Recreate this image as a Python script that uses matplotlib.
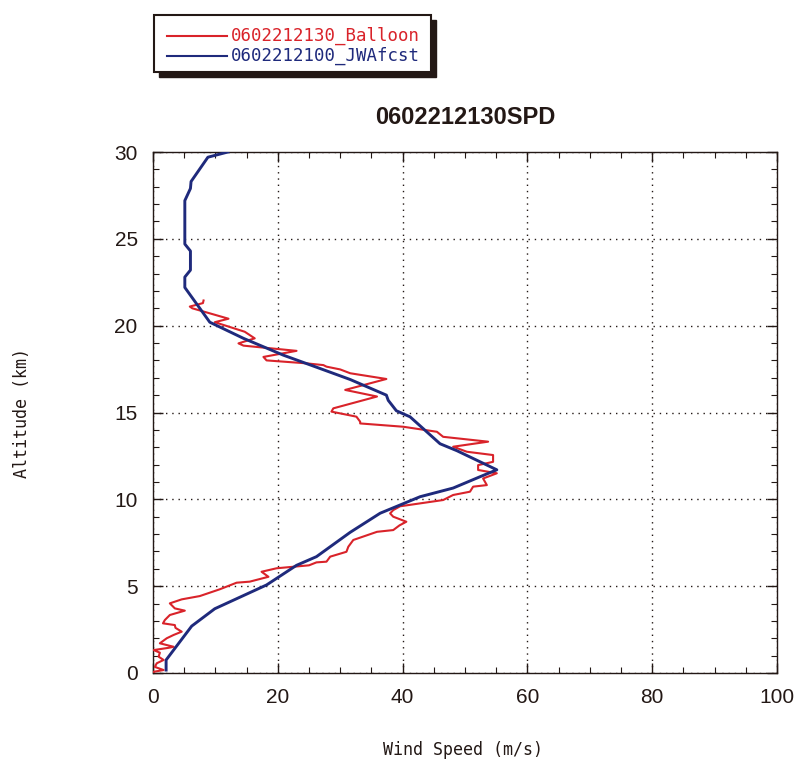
import matplotlib
matplotlib.use("Agg")
import matplotlib.pyplot as plt
from matplotlib.patches import Rectangle
from matplotlib.lines import Line2D
from matplotlib.ticker import MultipleLocator

# ---- data ----
balloon_alt = [0.07, 0.17, 0.35, 0.56, 0.75, 0.94, 1.17, 1.32, 1.45, 1.51, 1.71, 2.00, 2.19,
               2.38, 2.60, 2.76, 2.86, 3.05, 3.34, 3.59, 3.72, 4.01, 4.24, 4.43, 4.82, 5.20,
               5.26, 5.54, 5.83, 6.03, 6.20, 6.37, 6.41, 6.70, 6.98, 7.27, 7.66, 8.13, 8.23,
               8.50, 8.71, 9.00, 9.19, 9.38, 9.60, 9.96, 10.25, 10.44, 10.73, 10.82, 11.20,
               11.50, 11.69, 11.97, 12.16, 12.55, 12.74, 13.03, 13.32, 13.60, 13.89, 14.18,
               14.37, 14.47, 14.76, 15.05, 15.24, 15.92, 16.30, 16.93, 17.26, 17.48, 17.64,
               17.73, 17.83, 18.00, 18.20, 18.55, 18.70, 18.85, 18.98, 19.27, 19.65, 20.20,
               20.40, 21.00, 21.10, 21.30, 21.45]
balloon_spd = [0.1, 1.7, 0.3, 0.6, 1.7, 0.9, 1.1, 0.1, 2.5, 3.3, 1.1, 2.2, 3.3,
               4.6, 3.6, 3.5, 1.6, 1.9, 2.7, 5.1, 3.5, 2.7, 4.6, 7.5, 10.7, 13.4,
               15.5, 18.5, 17.4, 19.8, 25.0, 26.2, 27.8, 28.4, 31.0, 31.3, 32.1, 35.9, 38.5,
               39.5, 40.6, 38.5, 38.0, 38.5, 39.6, 46.5, 48.1, 50.8, 51.3, 53.5, 52.9,
               55.1, 52.1, 52.1, 54.5, 54.5, 50.3, 48.1, 53.7, 46.5, 45.5, 40.1,
               33.2, 33.2, 32.6, 28.6, 28.9, 35.9, 30.8, 37.4, 31.6, 30.0, 27.8,
               27.3, 24.6, 18.2, 17.7, 23.0, 18.75, 14.5, 13.7, 16.3, 14.7, 9.9,
               12.1, 6.3, 5.9, 8.0, 8.1]

fcst_alt = [0.17, 0.75, 2.7, 3.7, 5.07, 6.2, 6.7, 8.1, 9.2, 10.15, 10.65, 11.3, 11.7,
            12.8, 13.2, 14.75, 15.1, 15.7, 16.0, 16.9, 17.7, 18.3, 19.27, 20.2,
            22.2, 22.8, 23.2, 24.3, 24.7, 27.2, 27.9, 28.3, 29.7, 30.0]
fcst_spd = [2.1, 2.1, 6.2, 9.9, 18.2, 23.0, 26.2, 31.6, 36.4, 42.8, 48.1, 52.4, 55.1,
            48.7, 46.0, 41.2, 39.0, 37.7, 37.4, 31.6, 25.5, 20.9, 14.5, 9.1,
            5.1, 5.1, 6.0, 6.0, 5.1, 5.1, 6.0, 6.1, 8.8, 12.0]

labels = ["0602212130_Balloon", "0602212100_JWAfcst"]
title = "0602212130SPD"
xlabel = "Wind Speed (m/s)"
ylabel = "Altitude (km)"

red = "#d9232a"
blue = "#1f2a7c"
ink = "#231815"
sans = ["Liberation Sans", "DejaVu Sans"]
mono = ["DejaVu Sans Mono"]

W, H = 797, 762
fig = plt.figure(figsize=(W / 100, H / 100), dpi=100)
ax = fig.add_axes([153 / W, 1 - 673 / H, (777 - 153) / W, (673 - 152) / H])

ax.plot(balloon_spd, balloon_alt, color=red, lw=1.5, zorder=3)
ax.plot(fcst_spd, fcst_alt, color=blue, lw=2.1, zorder=4)

ax.set_xlim(0, 100)
ax.set_ylim(0, 30)
ax.xaxis.set_major_locator(MultipleLocator(20))
ax.xaxis.set_minor_locator(MultipleLocator(5))
ax.yaxis.set_major_locator(MultipleLocator(5))
ax.yaxis.set_minor_locator(MultipleLocator(1))
ax.tick_params(which="both", direction="in", top=True, right=True, colors=ink)
ax.tick_params(which="major", length=7, width=1)
ax.tick_params(which="minor", length=4, width=0.8)
ax.tick_params(axis="x", pad=11)
ax.tick_params(axis="y", pad=11)
for lab in ax.get_xticklabels() + ax.get_yticklabels():
    lab.set_family(sans)
    lab.set_fontsize(15)
    lab.set_color(ink)
for s in ax.spines.values():
    s.set_color(ink)
    s.set_linewidth(1.0)
ax.grid(True, which="major", color=ink, linestyle=(0, (1, 3.5)), linewidth=1.0)

fig.text(463 / W, 1 - 750 / H, xlabel, family=mono, fontsize=12, color=ink,
         ha="center", va="center")
fig.text(22 / W, 1 - 413 / H, ylabel, family=mono, fontsize=12, color=ink,
         ha="center", va="center", rotation=90)

fig.text(465 / W, 1 - 118 / H, title, family=sans,
         fontweight="bold", fontsize=17, color=ink, ha="center", va="center")

# legend box with black drop shadow (figure pixel coords)
def px(x, y):
    return x / W, 1 - y / H

bx0, by0, bx1, by1 = 154, 15, 431, 72
sh = 5
fig.patches.append(Rectangle(px(bx0 + sh, by1 + sh), (bx1 - bx0) / W, (by1 - by0) / H,
                             transform=fig.transFigure, facecolor=ink, edgecolor=ink,
                             zorder=1))
fig.patches.append(Rectangle(px(bx0, by1), (bx1 - bx0) / W, (by1 - by0) / H,
                             transform=fig.transFigure, facecolor="white", edgecolor=ink,
                             linewidth=1.5, zorder=2))
for i, (lab, col) in enumerate(zip(labels, [red, blue])):
    yy = 36 + 20 * i
    fig.lines.append(Line2D([167 / W, 227 / W], [1 - yy / H, 1 - yy / H],
                            transform=fig.transFigure, color=col, lw=1.5, zorder=3))
    fig.text(231 / W, 1 - yy / H, lab, family=mono, fontsize=12.5, color=col,
             ha="left", va="center", zorder=4)

fig.savefig("out.png", dpi=100)
